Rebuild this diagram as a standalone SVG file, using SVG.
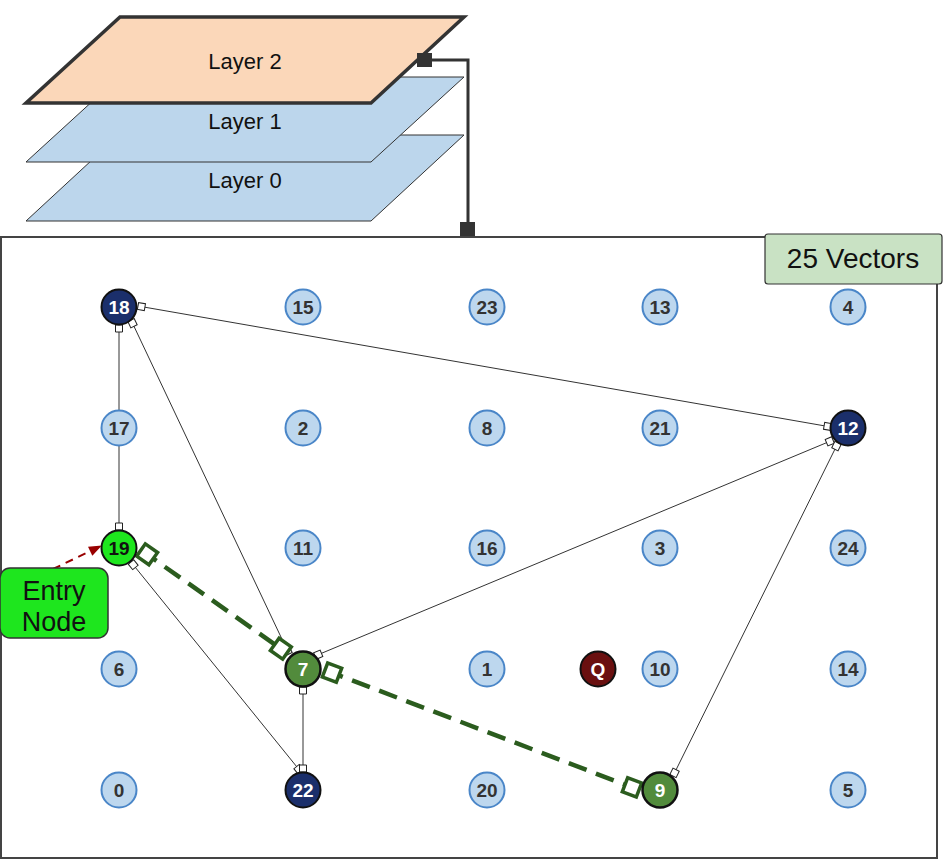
<svg xmlns="http://www.w3.org/2000/svg" width="944" height="866" viewBox="0 0 944 866">
<style>
text{font-family:"Liberation Sans",Arial,sans-serif;text-anchor:middle}
.lt{font-size:22px;fill:#111}
.lyr{fill:#bcd6ec;stroke:#333;stroke-width:1}
.n circle{stroke-width:2}
.n text{font-size:19px;font-weight:bold;dominant-baseline:central}
.light circle{fill:#bdd7ee;stroke:#4a86c8}
.light text{fill:#333}
.navy circle{fill:#1b2f6b;stroke:#111}
.navy text{fill:#fff}
.grn circle{fill:#528b3c;stroke:#111;stroke-width:2.5}
.grn text{fill:#fff}
.edge{stroke:#333;stroke-width:1;fill:none;marker-start:url(#sq);marker-end:url(#sq)}
.path{stroke:#2b5c1e;stroke-width:4.5;fill:none;stroke-dasharray:19 10;marker-start:url(#bsq);marker-end:url(#bsq)}
</style>
<defs>
<marker id="sq" markerUnits="userSpaceOnUse" markerWidth="12" markerHeight="12" viewBox="-10 -6 12 12" refX="0" refY="0" orient="auto-start-reverse" overflow="visible">
<rect x="-7" y="-3.5" width="7" height="7" fill="#fff" stroke="#222" stroke-width="1"/>
</marker>
<marker id="bsq" markerUnits="userSpaceOnUse" markerWidth="22" markerHeight="22" viewBox="-18 -11 22 22" refX="0" refY="0" orient="auto-start-reverse" overflow="visible">
<rect x="-15" y="-7.5" width="15" height="15" fill="#fff" stroke="#2b5c1e" stroke-width="3.5"/>
</marker>
<marker id="arr" markerUnits="userSpaceOnUse" markerWidth="14" markerHeight="12" viewBox="0 -6 14 12" refX="12" refY="0" orient="auto" overflow="visible">
<path d="M0,-5 L13,0 L0,5 Z" fill="#990000"/>
</marker>
</defs>

<g id="layers">
<g id="layer0"><polygon class="lyr" points="119,135 464,135 371,221 26,221"/><text class="lt" x="245" y="188">Layer 0</text></g>
<g id="layer1"><polygon class="lyr" points="119,77 464,77 371,162 26,162"/><text class="lt" x="245" y="129">Layer 1</text></g>
<g id="layer2"><polygon points="120,17 464,17 371,103 26,103" fill="#fbd7b9" stroke="#333" stroke-width="3.5" stroke-linejoin="miter"/><text class="lt" x="245" y="69">Layer 2</text></g>
</g>

<g id="layer-link">
<polyline points="432,60 468,60 468,224" fill="none" stroke="#333" stroke-width="3"/>
<rect x="417" y="53" width="15" height="14" fill="#333"/>
<rect x="460" y="222" width="15" height="15" fill="#333"/>
</g>

<g id="graph-box"><rect x="1" y="237" width="936" height="621" fill="#fff" stroke="#444" stroke-width="2"/></g>

<g id="count-label"><rect x="765" y="234" width="177" height="50" rx="3" fill="#c9e2c4" stroke="#333" stroke-width="1.2"/><text x="853" y="268" font-size="28" fill="#111">25 Vectors</text></g>

<g id="connectors">
<line class="edge" x1="138" y1="306" x2="831" y2="427"/>
<line class="edge" x1="119" y1="325" x2="119" y2="530"/>
<line class="edge" x1="131" y1="320" x2="289" y2="654"/>
<line class="edge" x1="131" y1="562" x2="301" y2="772"/>
<line class="edge" x1="303" y1="687" x2="303" y2="772"/>
<line class="edge" x1="315" y1="656" x2="833" y2="440"/>
<line class="edge" x1="673" y1="776" x2="838" y2="443"/>
<line class="path" x1="141" y1="550" x2="287" y2="653"/>
<line class="path" x1="325" y1="670" x2="639" y2="790"/>
<line x1="53" y1="569" x2="101" y2="546" stroke="#990000" stroke-width="2" stroke-dasharray="8 6" marker-end="url(#arr)"/>
</g>

<g id="entry-node"><rect x="0" y="568" width="108" height="70" rx="10" fill="#1ee61e" stroke="#333" stroke-width="1.5"/><text x="54" y="600" font-size="27" fill="#111">Entry</text><text x="54" y="631" font-size="27" fill="#111">Node</text></g>

<g id="n18" class="n navy"><circle cx="119" cy="307" r="17.5"/><text x="119" y="307">18</text></g>
<g id="n15" class="n light"><circle cx="303" cy="307" r="17.5"/><text x="303" y="307">15</text></g>
<g id="n23" class="n light"><circle cx="487" cy="307" r="17.5"/><text x="487" y="307">23</text></g>
<g id="n13" class="n light"><circle cx="660" cy="307" r="17.5"/><text x="660" y="307">13</text></g>
<g id="n4" class="n light"><circle cx="848" cy="307" r="17.5"/><text x="848" y="307">4</text></g>

<g id="n17" class="n light"><circle cx="119" cy="428" r="17.5"/><text x="119" y="428">17</text></g>
<g id="n2" class="n light"><circle cx="303" cy="428" r="17.5"/><text x="303" y="428">2</text></g>
<g id="n8" class="n light"><circle cx="487" cy="428" r="17.5"/><text x="487" y="428">8</text></g>
<g id="n21" class="n light"><circle cx="660" cy="428" r="17.5"/><text x="660" y="428">21</text></g>
<g id="n12" class="n navy"><circle cx="848" cy="428" r="17.5"/><text x="848" y="428">12</text></g>

<g id="n19" class="n"><circle cx="119" cy="548" r="17.5" fill="#1ee61e" stroke="#111" stroke-width="2.5"/><text x="119" y="548" fill="#111">19</text></g>
<g id="n11" class="n light"><circle cx="303" cy="548" r="17.5"/><text x="303" y="548">11</text></g>
<g id="n16" class="n light"><circle cx="487" cy="548" r="17.5"/><text x="487" y="548">16</text></g>
<g id="n3" class="n light"><circle cx="660" cy="548" r="17.5"/><text x="660" y="548">3</text></g>
<g id="n24" class="n light"><circle cx="848" cy="548" r="17.5"/><text x="848" y="548">24</text></g>

<g id="n6" class="n light"><circle cx="119" cy="669" r="17.5"/><text x="119" y="669">6</text></g>
<g id="n7" class="n grn"><circle cx="303" cy="669" r="17.5"/><text x="303" y="669">7</text></g>
<g id="n1" class="n light"><circle cx="487" cy="669" r="17.5"/><text x="487" y="669">1</text></g>
<g id="nQ" class="n"><circle cx="598" cy="669" r="17.5" fill="#6a1010" stroke="#111"/><text x="598" y="669" fill="#fff">Q</text></g>
<g id="n10" class="n light"><circle cx="660" cy="669" r="17.5"/><text x="660" y="669">10</text></g>
<g id="n14" class="n light"><circle cx="848" cy="669" r="17.5"/><text x="848" y="669">14</text></g>

<g id="n0" class="n light"><circle cx="119" cy="790" r="17.5"/><text x="119" y="790">0</text></g>
<g id="n22" class="n navy"><circle cx="303" cy="790" r="17.5"/><text x="303" y="790">22</text></g>
<g id="n20" class="n light"><circle cx="487" cy="790" r="17.5"/><text x="487" y="790">20</text></g>
<g id="n9" class="n grn"><circle cx="660" cy="790" r="17.5"/><text x="660" y="790">9</text></g>
<g id="n5" class="n light"><circle cx="848" cy="790" r="17.5"/><text x="848" y="790">5</text></g>
</svg>
